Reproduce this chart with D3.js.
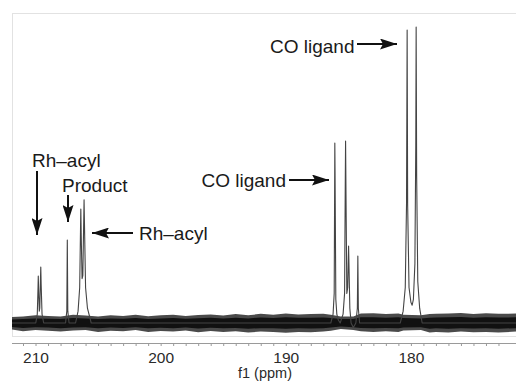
<!DOCTYPE html>
<html>
<head>
<meta charset="utf-8">
<script src="https://cdn.jsdelivr.net/npm/d3@7"></script>
<style>
  body { margin: 0; background: #fff; }
  svg { display: block; font-family: "Liberation Sans", Arial, sans-serif; }
</style>
</head>
<body>
<svg id="chart" width="516" height="381"></svg>
<script>
// chemical shift window (ppm, reversed like an NMR plot)
const ppmRange = [211.88, 171.6]
const majorTicks = [210, 200, 190, 180]

// spectrum vertices: [ppm, intensity]
const spectrum = [
  [211.88, 0],
  [209.98, 0], [209.86, 3], [209.80, 12], [209.78, 15.9], [209.75, 11], [209.70, 4],
  [209.66, 5], [209.61, 14], [209.58, 18.9], [209.55, 13], [209.48, 3], [209.35, 0],
  [207.6, 0], [207.5, 4], [207.46, 28], [207.42, 4], [207.32, 0],
  [206.8, 0], [206.6, 4], [206.47, 12], [206.41, 30], [206.38, 38.5], [206.35, 30],
  [206.28, 15], [206.22, 16], [206.15, 34], [206.12, 41.6], [206.09, 34], [206.0, 12],
  [205.85, 5], [205.55, 0],
  [186.4, 0], [186.22, 3], [186.13, 10], [186.09, 50], [186.08, 60.8], [186.06, 50],
  [186.0, 8], [185.92, 3], [185.8, 1], [185.65, 0], [185.42, 3], [185.3, 10],
  [185.24, 50], [185.22, 61.5], [185.19, 45], [185.12, 10], [185.05, 12], [185.0, 22],
  [184.98, 26], [184.95, 20], [184.88, 5], [184.78, 0], [184.6, -1.5], [184.4, 0],
  [184.28, 5], [184.24, 22.6], [184.2, 5], [184.1, 0],
  [180.85, 0], [180.62, 4], [180.45, 12], [180.35, 40], [180.30, 99], [180.26, 40],
  [180.15, 12], [180.0, 7], [179.9, 6], [179.8, 8], [179.68, 20], [179.61, 60],
  [179.58, 100], [179.54, 50], [179.45, 14], [179.3, 5], [179.1, 0],
  [171.6, 0]
]

// baseline noise envelope: [ppm, low, high]
const noise = [
  [211.88, -2.2, 2.0], [211, -2.8, 2.2], [210, -2.4, 2.6], [209, -2.6, 2.4], [208, -2.9, 2.2],
  [207, -2.5, 2.8], [206, -2.4, 2.5], [205, -3.0, 2.2], [204, -2.6, 2.6], [203, -2.8, 2.4],
  [202, -2.4, 2.8], [201, -3.0, 2.3], [200, -2.7, 2.6], [199, -2.9, 2.8], [198, -2.5, 2.4],
  [197, -3.1, 2.7], [196, -2.7, 2.9], [195, -3.0, 2.5], [194, -2.8, 3.0], [193, -3.2, 2.6],
  [192, -2.9, 3.1], [191, -3.0, 2.8], [190, -3.3, 3.2], [189, -3.0, 2.9], [188, -3.1, 3.0],
  [187, -2.9, 3.1], [186.4, -2.6, 2.8], [185.6, -2.0, 2.2], [184.6, -2.4, 2.2], [184, -2.8, 3.2],
  [183, -3.0, 3.3], [182, -2.8, 3.0], [181, -3.0, 3.2], [180.6, -2.5, 2.8], [179.2, -2.4, 2.6],
  [178.5, -3.2, 3.0], [178, -3.0, 3.1], [177, -3.2, 3.2], [176, -2.9, 3.4], [175, -3.1, 3.0],
  [174, -3.0, 3.3], [173, -3.2, 3.1], [171.6, -2.9, 3.2]
]

const labels = ["CO ligand", "CO ligand", "Rh\u2013acyl", "Product", "Rh\u2013acyl"]

const svg = d3.select("#chart")
const width = 516, height = 381

const x = d3.scaleLinear().domain(ppmRange).range([12, 516])
const y = d3.scaleLinear().domain([0, 100]).range([323, 27])

// faint plot frame
svg.append("rect")
  .attr("x", 12.5).attr("y", 13.5)
  .attr("width", 520).attr("height", 323)
  .attr("fill", "none")
  .attr("stroke", "#e2e2e2")

// noise band: fuzzy outer envelope, darker core
svg.append("path")
  .datum(noise)
  .attr("d", d3.area()
    .x(d => x(d[0]))
    .y0(d => y(d[1]))
    .y1(d => y(d[2])))
  .attr("fill", "#4a4a4a")

svg.append("path")
  .datum(noise)
  .attr("d", d3.area()
    .x(d => x(d[0]))
    .y0(d => y(d[1] * 0.6))
    .y1(d => y(d[2] * 0.6)))
  .attr("fill", "#111")

// spectrum trace
const line = d3.line()
  .x(d => x(d[0]))
  .y(d => y(d[1]))
svg.append("path")
  .datum(spectrum)
  .attr("d", line)
  .attr("fill", "none")
  .attr("stroke", "#444")
  .attr("stroke-width", 1.1)
  .attr("stroke-linejoin", "round")

// x axis, a tick every ppm, label every 10
const allTicks = d3.range(211, 172, -1)
const axis = d3.axisBottom(x)
  .tickValues(allTicks)
  .tickSize(3)
  .tickPadding(5.6)
  .tickFormat(d => majorTicks.includes(d) ? d : "")

const axisG = svg.append("g")
  .attr("transform", "translate(0,343)")
  .call(axis)
axisG.select(".domain").attr("stroke", "#9a9a9a").attr("d", "M12,0.5H516")
axisG.selectAll(".tick line").attr("stroke", "#9a9a9a")
axisG.selectAll(".tick text")
  .attr("fill", "#2a2a2a")
  .attr("font-size", "15.5px")
  .attr("font-family", "Liberation Sans, Arial, sans-serif")

svg.append("text")
  .attr("x", 265).attr("y", 377.8)
  .attr("text-anchor", "middle")
  .attr("font-size", "14.5px")
  .attr("fill", "#2a2a2a")
  .text("f1 (ppm)")

// arrow heads
svg.append("defs").append("marker")
  .attr("id", "head")
  .attr("viewBox", "0 0 17 11")
  .attr("refX", 17).attr("refY", 5.5)
  .attr("markerWidth", 17).attr("markerHeight", 11)
  .attr("markerUnits", "userSpaceOnUse")
  .attr("orient", "auto")
  .append("path")
  .attr("d", "M0,0L17,5.5L0,11L3,5.5Z")
  .attr("fill", "#111")

function arrow(x1, y1, x2, y2) {
  svg.append("line")
    .attr("x1", x1).attr("y1", y1)
    .attr("x2", x2).attr("y2", y2)
    .attr("stroke", "#111")
    .attr("stroke-width", 2)
    .attr("marker-end", "url(#head)")
}

function label(txt, tx, ty, anchor) {
  svg.append("text")
    .attr("x", tx).attr("y", ty)
    .attr("text-anchor", anchor)
    .attr("font-size", "19px")
    .attr("fill", "#1a1a1a")
    .text(txt)
}

label(labels[0], 270, 53, "start")
arrow(357, 44, 397, 44)

label(labels[1], 286, 187, "end")
arrow(289, 180, 329, 180)

label(labels[2], 32, 167, "start")
arrow(37, 171, 37, 235)

label(labels[3], 62, 192, "start")
arrow(68, 195, 68, 222)

label(labels[4], 139, 240, "start")
arrow(133, 233, 92, 233)
</script>
</body>
</html>
